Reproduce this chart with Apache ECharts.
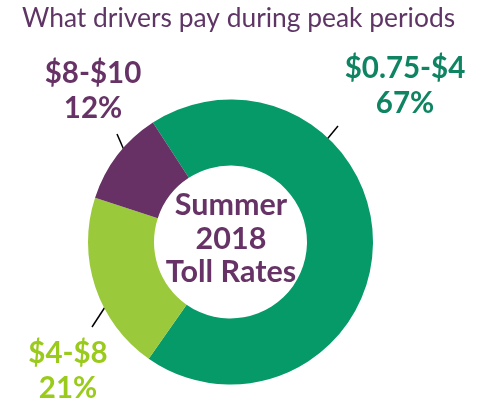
<!DOCTYPE html>
<html>
<head>
<meta charset="utf-8">
<script src="https://cdn.jsdelivr.net/npm/echarts@6/dist/echarts.min.js"></script>
<style>
  html, body { margin: 0; padding: 0; background: #fff; }
  #chart { width: 486px; height: 402px; }
</style>
</head>
<body>
<div id="chart"></div>
<script>
// 价格区间与占比（扇区大小按图中实际角度读取）
const categories = ['$0.75-$4', '$4-$8', '$8-$10']
const shares = [68.9, 20.3, 10.8]
const pctLabels = ['67%', '21%', '12%']

const sliceColors = ['#079a69', '#9bc93c', '#673165']
const labelColors = ['#0e8462', '#9acb1c', '#673366']
// 标签中心位置
const labelPos = [[405, 86], [68, 371], [93, 91]]

const chartInstance = echarts.init(document.getElementById('chart'))

const option = {
  animation: false,
  title: {
    text: 'What drivers pay during peak periods',
    left: 17,
    top: 0,
    textStyle: {
      fontFamily: 'Lato',
      fontWeight: 'normal',
      fontSize: 26.4,
      color: '#5f3566'
    }
  },
  graphic: [
    {
      type: 'text',
      x: 231,
      y: 239,
      style: {
        text: 'Summer\n2018\nToll Rates',
        align: 'center',
        verticalAlign: 'middle',
        fontFamily: 'Lato',
        fontWeight: 'bold',
        fontSize: 30.5,
        lineHeight: 33.5,
        fill: '#673366'
      }
    },
    // 引导线
    {type: 'line', shape: {x1: 319, y1: 149, x2: 338, y2: 126}, style: {stroke: '#000', lineWidth: 1.5}},
    {type: 'line', shape: {x1: 107, y1: 304, x2: 92, y2: 327}, style: {stroke: '#000', lineWidth: 1.5}},
    {type: 'line', shape: {x1: 134, y1: 173, x2: 117, y2: 134}, style: {stroke: '#000', lineWidth: 1.5}}
  ],
  series: [
    {
      type: 'pie',
      center: [230.5, 242],
      radius: [76.5, 142.5],
      startAngle: 123,
      clockwise: true,
      silent: true,
      data: categories.map((name, i) => ({
        name: name,
        value: shares[i],
        itemStyle: {color: sliceColors[i]},
        label: {color: labelColors[i]}
      })),
      label: {
        show: true,
        position: 'inside',
        overflow: 'none',
        formatter: (p) => p.name + '\n' + pctLabels[p.dataIndex],
        fontFamily: 'Lato',
        fontWeight: 'bold',
        fontSize: 29.5,
        lineHeight: 35,
        align: 'center'
      },
      labelLine: {show: false},
      labelLayout: (params) => ({
        x: labelPos[params.dataIndex][0],
        y: labelPos[params.dataIndex][1],
        align: 'center',
        verticalAlign: 'middle'
      })
    }
  ]
}

chartInstance.setOption(option)
</script>
</body>
</html>
